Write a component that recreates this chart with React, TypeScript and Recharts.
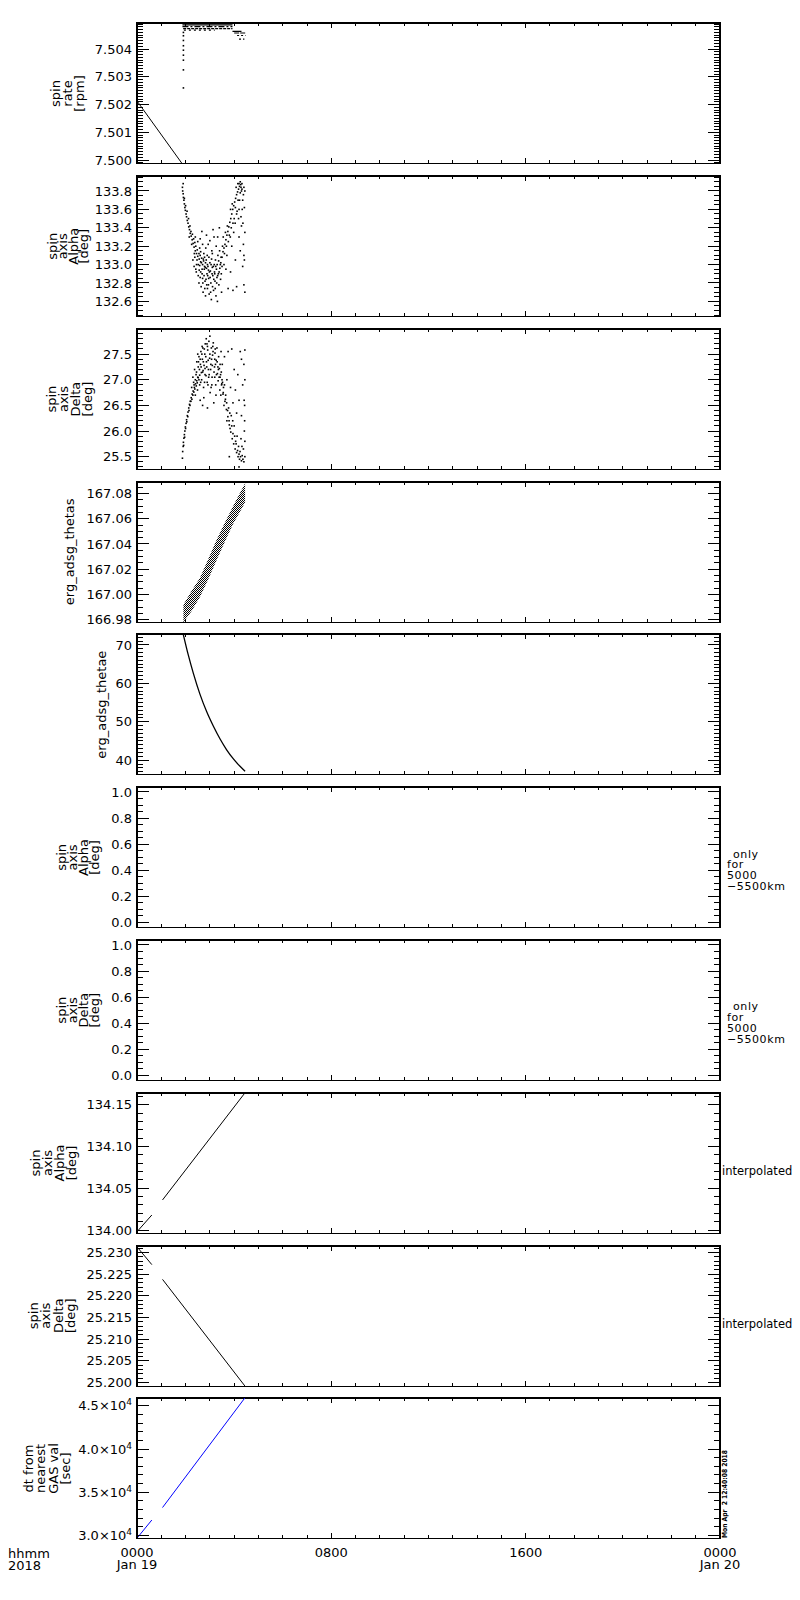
import React from "react";
import { ComposedChart, Line, Scatter, Area, XAxis, YAxis, ReferenceArea } from "recharts";

// page geometry of the ten stacked panels
const PLOT_LEFT = 137;
const PLOT_RIGHT = 720;
const FIRST_TOP = 23.3;
const PITCH = 152.78;
const PLOT_H = 140.4;
const PAD = 10;
const FONT = "'DejaVu Sans', 'Liberation Sans', sans-serif";

// hours after 0000 UT, Jan 19 2018
const HOUR_TICKS = Array.from({ length: 25 }, (_, i) => i);
const TIME_LABEL_HOURS = [0, 8, 16, 24];
const TIME_LABELS = ["0000", "0800", "1600", "0000"];
const DATE_LABELS = ["Jan 19", "", "", "Jan 20"];

// panel 1: spin rate [rpm]
const spinRateLine: [number, number][] = [[0, 7.50213], [1.85, 7.49988]];
const spinRateJump: [number, number][] = [
  [1.91, 7.5026], [1.91, 7.50325], [1.91, 7.5036], [1.91, 7.50396], [1.91, 7.50431],
  [1.91, 7.50448], [1.91, 7.5046], [1.91, 7.50412], [1.91, 7.50378],
];
const spinRateRows: [number, number, number][] = [
  [1.87, 3.93, 7.50487], [1.87, 3.93, 7.50481], [1.9, 3.93, 7.50474], [1.93, 3.2, 7.50468],
  [3.93, 4.3, 7.50464], [4.0, 4.47, 7.50458], [4.12, 4.47, 7.50449], [4.2, 4.42, 7.50436],
];
const ROW_DASH = ["", "6 2 2 2", "3 1", "2 3", "", "5 1", "2 2", "2 2"];

// panel 2: spin axis Alpha [deg]
const alphaPts: [number, number][] = [
  [1.9, 133.88], [1.87, 133.84], [1.88, 133.8], [1.9, 133.77], [1.91, 133.73], [1.93, 133.7], [1.95, 133.66],
  [1.97, 133.62], [1.99, 133.59], [2.02, 133.55], [2.04, 133.52], [2.07, 133.48], [2.1, 133.45],
  [2.13, 133.41], [2.16, 133.38], [2.19, 133.34], [2.23, 133.31], [2.27, 133.27], [2.31, 133.23],
  [2.35, 133.19], [2.4, 133.15], [2.45, 133.12], [2.5, 133.09], [2.56, 133.06], [2.62, 133.03],
  [2.7, 133.0], [2.78, 132.98], [2.86, 132.96], [2.94, 132.94],
  [1.95, 133.72], [2.0, 133.64], [2.06, 133.58], [2.12, 133.5], [2.18, 133.42], [2.22, 133.36],
  [2.28, 133.33], [2.33, 133.28], [2.38, 133.24], [2.42, 133.2], [2.48, 133.16], [2.55, 133.12],
  [2.6, 133.1], [2.66, 133.07], [2.74, 133.04], [2.82, 133.02], [2.9, 133.0], [2.15, 133.3],
  [2.25, 133.22], [2.36, 133.12], [2.47, 133.05], [2.58, 132.99], [2.68, 132.95],
  [2.3, 133.05], [2.35, 132.98], [2.4, 133.3], [2.44, 132.92], [2.5, 133.25], [2.52, 132.88],
  [2.55, 132.8], [2.58, 133.18], [2.62, 132.92], [2.64, 132.76], [2.67, 133.36], [2.7, 132.85],
  [2.72, 132.7], [2.75, 133.12], [2.77, 132.95], [2.8, 132.82], [2.82, 132.66], [2.85, 133.05],
  [2.88, 132.9], [2.9, 132.74], [2.93, 133.22], [2.95, 132.85], [2.97, 132.68], [3.0, 133.02],
  [3.02, 132.93], [3.04, 132.8], [3.06, 132.62], [3.08, 133.15], [3.1, 132.97], [3.12, 132.88],
  [3.15, 132.72], [3.17, 133.3], [3.19, 132.92], [3.21, 132.82], [3.23, 133.05], [3.25, 132.66],
  [3.27, 132.95], [3.29, 132.86], [3.31, 132.6], [3.33, 133.1], [3.35, 132.9], [3.37, 132.78],
  [3.39, 133.4], [3.41, 132.96], [3.44, 132.84], [3.46, 133.08], [3.48, 132.7], [3.5, 132.98],
  [2.6, 133.28], [2.86, 133.32], [3.0, 133.26], [3.13, 133.38], [2.96, 133.08], [3.05, 133.0],
  [3.18, 133.0], [2.78, 133.08], [2.92, 132.98],
  [2.52, 133.0], [2.56, 132.94], [2.6, 132.86], [2.65, 133.02], [2.68, 132.9], [2.71, 132.8],
  [2.73, 133.06], [2.76, 132.88], [2.79, 132.74], [2.81, 132.97], [2.84, 132.84], [2.87, 132.78],
  [2.89, 133.1], [2.91, 132.88], [2.94, 132.78], [2.98, 132.92], [3.01, 132.86], [3.03, 132.7],
  [3.07, 133.06], [3.09, 132.9], [3.11, 132.76], [3.14, 132.98], [3.16, 132.84], [3.2, 132.9],
  [3.22, 132.74], [3.24, 132.98], [3.28, 132.8], [3.3, 133.0], [3.32, 132.88], [3.36, 133.04],
  [3.38, 132.92], [3.4, 133.15], [3.43, 133.0], [3.47, 132.9], [2.45, 133.0], [2.42, 132.95],
  [2.38, 133.08], [2.62, 133.14], [2.7, 133.22], [2.83, 133.18], [3.1, 133.12], [3.26, 133.2],
  [3.32, 133.3],
  [3.45, 133.02], [3.5, 133.08], [3.54, 133.14], [3.58, 133.18], [3.62, 133.22], [3.66, 133.27],
  [3.7, 133.32], [3.74, 133.36], [3.78, 133.41], [3.82, 133.46], [3.86, 133.5], [3.9, 133.55],
  [3.94, 133.6], [3.98, 133.64], [4.02, 133.68], [4.06, 133.72], [4.1, 133.76], [4.14, 133.79],
  [4.18, 133.82], [4.22, 133.85], [4.27, 133.87], [4.32, 133.88],
  [3.52, 133.2], [3.6, 133.12], [3.68, 133.2], [3.72, 133.42], [3.8, 133.32], [3.88, 133.4],
  [3.92, 133.66], [4.0, 133.5], [4.05, 133.62], [4.08, 133.84], [4.12, 133.58], [4.16, 133.7],
  [4.2, 133.6], [4.25, 133.78], [4.3, 133.8], [4.35, 133.7], [4.4, 133.84], [4.42, 133.62],
  [3.85, 133.6], [3.95, 133.45], [4.15, 133.88], [4.25, 133.9],
  [3.55, 133.3], [3.64, 133.35], [3.7, 133.1], [3.58, 133.0], [3.66, 132.95], [3.76, 133.25],
  [3.84, 133.3], [3.9, 133.2], [3.98, 133.35], [4.04, 133.45], [4.1, 133.55], [4.18, 133.5],
  [4.22, 133.7], [4.33, 133.6], [4.38, 133.76], [4.44, 133.8], [4.36, 133.45], [4.4, 133.1],
  [4.32, 133.82], [4.2, 133.88], [4.28, 133.84],
  [4.2, 133.3], [4.25, 133.15], [4.3, 133.42], [4.35, 132.98], [4.38, 133.22], [4.4, 132.78],
  [4.42, 133.05], [4.44, 132.7], [4.1, 132.76], [3.95, 132.72], [4.05, 133.05], [3.85, 132.92],
  [3.75, 132.74], [4.28, 133.52], [4.44, 133.35],
];

// panel 3: spin axis Delta [deg]
const deltaPts: [number, number][] = [
  [1.87, 25.47], [1.88, 25.6], [1.9, 25.7], [1.91, 25.78], [1.93, 25.86], [1.95, 25.93], [1.97, 26.0],
  [1.99, 26.08], [2.02, 26.15], [2.04, 26.22], [2.07, 26.3], [2.1, 26.37], [2.13, 26.45],
  [2.16, 26.52], [2.19, 26.58], [2.23, 26.65], [2.27, 26.72], [2.31, 26.78], [2.36, 26.85],
  [2.41, 26.92], [2.46, 26.98], [2.52, 27.04], [2.58, 27.09], [2.65, 27.14], [2.72, 27.18], [2.8, 27.22],
  [1.92, 25.72], [1.96, 25.88], [2.0, 26.05], [2.05, 26.18], [2.09, 26.28], [2.14, 26.4],
  [2.18, 26.5], [2.22, 26.58], [2.26, 26.62], [2.3, 26.7], [2.34, 26.76], [2.38, 26.82],
  [2.44, 26.88], [2.48, 26.94], [2.55, 27.0],
  [2.25, 26.85], [2.3, 27.05], [2.33, 26.95], [2.37, 27.2], [2.4, 26.7], [2.43, 27.1], [2.46, 27.35],
  [2.49, 26.8], [2.52, 27.25], [2.55, 27.45], [2.58, 26.9], [2.61, 27.3], [2.63, 27.55], [2.66, 27.0],
  [2.69, 27.4], [2.71, 27.62], [2.74, 26.85], [2.76, 27.28], [2.79, 27.5], [2.81, 27.7], [2.84, 27.08],
  [2.86, 27.35], [2.89, 26.95], [2.91, 27.58], [2.94, 27.2], [2.96, 27.75], [2.99, 27.42], [3.01, 26.75],
  [3.04, 27.3], [3.06, 27.62], [3.09, 27.05], [3.11, 27.48], [3.14, 27.72], [3.16, 26.55], [3.19, 27.25],
  [3.21, 27.52], [3.24, 26.9], [3.26, 27.38], [3.29, 27.62], [3.31, 27.12], [3.34, 26.98], [3.36, 27.45],
  [3.39, 27.22], [3.41, 26.8], [3.44, 27.1], [3.46, 27.55], [3.49, 26.92], [3.51, 27.3], [3.54, 26.72],
  [2.6, 26.6], [2.75, 26.65], [2.9, 26.45], [3.05, 26.85], [2.7, 26.5], [2.95, 27.05], [3.2, 27.05],
  [2.5, 27.5], [2.85, 27.8], [3.0, 27.85],
  [2.35, 26.9], [2.4, 27.0], [2.45, 27.15], [2.5, 27.05], [2.53, 27.35], [2.57, 27.2], [2.6, 27.4],
  [2.64, 27.25], [2.67, 27.5], [2.7, 27.15], [2.73, 27.35], [2.77, 27.6], [2.8, 27.1], [2.83, 27.45],
  [2.87, 27.25], [2.9, 27.65], [2.93, 27.38], [2.97, 27.1], [3.0, 27.5], [3.03, 27.2], [3.07, 27.4],
  [3.1, 27.28], [3.13, 27.55], [3.17, 27.15], [3.2, 27.4], [3.23, 27.3], [3.27, 27.1], [3.3, 27.35],
  [3.33, 27.25], [3.38, 27.05], [3.42, 27.3], [3.47, 27.15], [3.5, 27.0], [2.62, 26.95], [2.78, 26.95],
  [2.92, 26.9], [3.08, 26.9], [3.25, 26.7], [2.68, 27.65], [2.88, 27.7], [3.12, 27.65], [3.22, 27.6],
  [3.35, 27.2], [3.42, 27.05], [3.48, 26.9], [3.55, 26.75], [3.62, 26.58], [3.68, 26.42], [3.74, 26.28],
  [3.8, 26.12], [3.86, 25.98], [3.92, 25.85], [3.98, 25.75], [4.04, 25.65], [4.1, 25.58], [4.16, 25.5],
  [4.22, 25.45], [4.3, 25.42],
  [3.45, 26.7], [3.52, 26.95], [3.58, 26.5], [3.65, 26.7], [3.7, 26.2], [3.77, 26.45], [3.83, 26.05],
  [3.88, 26.3], [3.95, 25.95], [4.0, 26.1], [4.06, 25.8], [4.12, 25.9], [4.18, 25.7], [4.24, 25.6],
  [4.28, 25.85], [4.33, 25.52], [4.38, 25.65], [4.4, 25.4], [4.42, 26.0],
  [3.56, 26.85], [3.6, 26.9], [3.64, 26.62], [3.69, 26.55], [3.73, 26.4], [3.79, 26.2], [3.82, 26.35],
  [3.9, 26.1], [3.94, 26.2], [4.02, 25.9], [4.08, 25.75], [4.14, 25.62], [4.2, 25.55], [4.26, 25.5],
  [4.32, 25.7], [4.36, 25.45], [4.44, 25.5], [4.44, 25.8], [4.43, 26.2], [4.41, 26.6], [4.44, 27.0],
  [4.3, 27.4],
  [3.6, 27.45], [3.75, 27.55], [3.9, 27.6], [4.0, 27.2], [4.05, 26.8], [4.15, 27.1], [4.2, 26.6],
  [4.25, 27.55], [4.3, 26.3], [4.35, 26.9], [4.4, 27.3], [4.43, 26.5], [4.44, 27.58], [3.85, 26.85],
  [3.95, 26.55], [4.1, 26.35], [3.7, 27.0], [4.2, 25.3], [3.8, 25.5],
];

// panel 4: erg_adsg_thetas, band of points [low, high]
const thetasTime = [1.91, 2.25, 2.59, 2.93, 3.27, 3.62, 3.96, 4.2, 4.45];
const thetasLow = [166.978, 166.987, 166.998, 167.012, 167.027, 167.042, 167.056, 167.064, 167.073];
const thetasHigh = [166.992, 167.003, 167.013, 167.028, 167.043, 167.057, 167.07, 167.079, 167.088];

// panel 5: erg_adsg_thetae
const thetaeTime = [1.91, 2.11, 2.32, 2.59, 2.87, 3.14, 3.42, 3.69, 3.96, 4.24, 4.45];
const thetaeVal = [72.6, 67.4, 62.6, 57.2, 52.6, 48.9, 45.5, 42.7, 40.4, 38.4, 37.1];

// panels 8-10: interpolated values, two segments each
const alphaInterp: [number, number][][] = [[[0, 133.998], [0.61, 134.018]], [[1.05, 134.036], [4.44, 134.164]]];
const deltaInterp: [number, number][][] = [[[0, 25.2313], [0.61, 25.2272]], [[1.05, 25.2238], [4.44, 25.1992]]];
const dtInterp: [number, number][][] = [[[0, 29700], [0.61, 31800]], [[1.05, 33240], [4.44, 45900]]];

const toPts = (a: [number, number][]) => a.map(([t, v]) => ({ t, v }));

type Spec = {
  domain: [number, number];
  major: number;
  div: number;
  fmt: (v: number) => React.ReactNode;
  title: string[];
  cx: number;
  gap: number;
};

const sci = (v: number) => (
  <>
    <tspan>{(v / 1e4).toFixed(1)}×10</tspan>
    <tspan dy={-5} fontSize={9}>4</tspan>
  </>
);

const SPECS: Spec[] = [
  { domain: [7.49988, 7.50494], major: 0.001, div: 10, fmt: (v) => v.toFixed(3), title: ["spin", "rate", "[rpm]"], cx: 67, gap: 12 },
  { domain: [132.437, 133.963], major: 0.2, div: 4, fmt: (v) => v.toFixed(1), title: ["spin", "axis", "Alpha", "[deg]"], cx: 68, gap: 10.5 },
  { domain: [25.252, 27.99], major: 0.5, div: 5, fmt: (v) => v.toFixed(1), title: ["spin", "axis", "Delta", "[deg]"], cx: 70, gap: 12 },
  { domain: [166.978, 167.089], major: 0.02, div: 4, fmt: (v) => v.toFixed(2), title: ["erg_adsg_thetas"], cx: 70, gap: 12 },
  { domain: [36.3, 72.85], major: 10, div: 10, fmt: (v) => v.toFixed(0), title: ["erg_adsg_thetae"], cx: 102, gap: 12 },
  { domain: [-0.038, 1.038], major: 0.2, div: 4, fmt: (v) => v.toFixed(1), title: ["spin", "axis", "Alpha", "[deg]"], cx: 78, gap: 11 },
  { domain: [-0.038, 1.038], major: 0.2, div: 4, fmt: (v) => v.toFixed(1), title: ["spin", "axis", "Delta", "[deg]"], cx: 78, gap: 11 },
  { domain: [133.996, 134.164], major: 0.05, div: 5, fmt: (v) => v.toFixed(2), title: ["spin", "axis", "Alpha", "[deg]"], cx: 54, gap: 12 },
  { domain: [25.1991, 25.2315], major: 0.005, div: 5, fmt: (v) => v.toFixed(3), title: ["spin", "axis", "Delta", "[deg]"], cx: 52, gap: 12.5 },
  { domain: [29676, 45891], major: 5000, div: 5, fmt: sci, title: ["dt from", "nearest", "GAS val", "[sec]"], cx: 47, gap: 12.5 },
];

function axisTicks(domain: [number, number], major: number, div: number) {
  const step = major / div;
  const k0 = Math.ceil(domain[0] / step - 1e-9);
  const k1 = Math.floor(domain[1] / step + 1e-9);
  const out: number[] = [];
  for (let k = k0; k <= k1; k++) out.push(+(k * step).toFixed(9));
  return out;
}

const isMajor = (v: number, major: number) => Math.abs(v / major - Math.round(v / major)) < 1e-6;

function makeYTick(spec: Spec) {
  return (props: any) => {
    const { y, payload } = props;
    const v = payload.value;
    const maj = isMajor(v, spec.major);
    const len = maj ? 12 : 6;
    return (
      <g>
        <line x1={PLOT_LEFT} x2={PLOT_LEFT + len} y1={y} y2={y} stroke="#000" strokeWidth={1} shapeRendering="crispEdges" />
        <line x1={PLOT_RIGHT - len} x2={PLOT_RIGHT} y1={y} y2={y} stroke="#000" strokeWidth={1} shapeRendering="crispEdges" />
        {maj && (
          <text x={PLOT_LEFT - 5} y={y + 4.6} textAnchor="end" fontSize={13} fontFamily={FONT} fill="#000">
            {spec.fmt(v)}
          </text>
        )}
      </g>
    );
  };
}

function makeXTick(showLabels: boolean) {
  const top = PAD;
  const bottom = PAD + PLOT_H;
  return (props: any) => {
    const { x, payload } = props;
    const v = payload.value;
    const li = TIME_LABEL_HOURS.indexOf(v);
    const len = li >= 0 ? 5 : 3.5;
    return (
      <g>
        <line x1={x} x2={x} y1={bottom} y2={bottom - len} stroke="#000" strokeWidth={1} shapeRendering="crispEdges" />
        <line x1={x} x2={x} y1={top} y2={top + len} stroke="#000" strokeWidth={1} shapeRendering="crispEdges" />
        {showLabels && li >= 0 && (
          <text x={x} y={bottom + 19} textAnchor="middle" fontSize={13} fontFamily={FONT} fill="#000">
            <tspan x={x}>{TIME_LABELS[li]}</tspan>
            {DATE_LABELS[li] && (
              <tspan x={x} dy={12}>
                {DATE_LABELS[li]}
              </tspan>
            )}
          </text>
        )}
      </g>
    );
  };
}

const dotShape = (p: any) => <rect x={p.cx - 0.8} y={p.cy - 0.8} width={1.6} height={1.6} fill="#000" />;

function seg(key: string, pts: [number, number][], color = "#000", width = 1, dash = "", curve: any = "linear") {
  return (
    <Line
      key={key}
      data={toPts(pts)}
      dataKey="v"
      type={curve}
      stroke={color}
      strokeWidth={width}
      strokeDasharray={dash || undefined}
      dot={false}
      activeDot={false}
      isAnimationActive={false}
    />
  );
}

function seriesFor(i: number): React.ReactNode[] {
  switch (i) {
    case 0:
      return [
        seg("l", spinRateLine),
        ...spinRateRows.map(([a, b, v], k) => seg("r" + k, [[a, v], [b, v]], "#000", 1.2, ROW_DASH[k])),
        <Scatter key="j" data={toPts(spinRateJump)} dataKey="v" shape={dotShape} isAnimationActive={false} />,
      ];
    case 1:
      return [<Scatter key="a" data={toPts(alphaPts)} dataKey="v" shape={dotShape} isAnimationActive={false} />];
    case 2:
      return [<Scatter key="d" data={toPts(deltaPts)} dataKey="v" shape={dotShape} isAnimationActive={false} />];
    case 3:
      return [
        <Area
          key="b"
          data={thetasTime.map((t, k) => ({ t, band: [thetasLow[k], thetasHigh[k]] }))}
          dataKey="band"
          type="linear"
          stroke="none"
          fill="url(#hatch)"
          fillOpacity={1}
          dot={false}
          activeDot={false}
          isAnimationActive={false}
        />,
      ];
    case 4:
      return [seg("e", thetaeTime.map((t, k) => [t, thetaeVal[k]] as [number, number]), "#000", 1.3, "", "monotone")];
    case 7:
      return alphaInterp.map((s, k) => seg("a" + k, s));
    case 8:
      return deltaInterp.map((s, k) => seg("d" + k, s));
    case 9:
      return dtInterp.map((s, k) => seg("t" + k, s, "#0000ff"));
    default:
      return [];
  }
}

function Panel({ i }: { i: number }) {
  const spec = SPECS[i];
  const last = i === SPECS.length - 1;
  const bottomPad = last ? 45 : PAD;
  const top = FIRST_TOP + i * PITCH - PAD;
  return (
    <div style={{ position: "absolute", left: 0, top, width: 800 }}>
      <ComposedChart
        width={800}
        height={PAD + PLOT_H + bottomPad}
        margin={{ top: PAD, left: PLOT_LEFT - 1, right: 800 - PLOT_RIGHT, bottom: bottomPad - 1 }}
      >
        <defs>
          <pattern id="hatch" width="2" height="2" patternUnits="userSpaceOnUse">
            <rect x="0" y="0" width="1" height="1" fill="#000" />
            <rect x="1" y="1" width="1" height="1" fill="#000" />
          </pattern>
        </defs>
        <XAxis
          type="number"
          dataKey="t"
          domain={[0, 24]}
          ticks={HOUR_TICKS}
          interval={0}
          allowDataOverflow
          height={1}
          axisLine={false}
          tickLine={false}
          tick={makeXTick(last)}
        />
        <YAxis
          type="number"
          domain={spec.domain}
          ticks={axisTicks(spec.domain, spec.major, spec.div)}
          interval={0}
          allowDataOverflow
          width={1}
          axisLine={false}
          tickLine={false}
          tick={makeYTick(spec)}
        />
        {seriesFor(i)}
        <ReferenceArea
          x1={0}
          x2={24}
          y1={spec.domain[0]}
          y2={spec.domain[1]}
          fill="none"
          fillOpacity={0}
          stroke="#000"
          strokeWidth={1.3}
          shapeRendering="crispEdges"
        />
      </ComposedChart>
    </div>
  );
}

function YTitle({ lines, cx, cy, gap }: { lines: string[]; cx: number; cy: number; gap: number }) {
  return (
    <>
      {lines.map((s, k) => {
        const x = cx + (k - (lines.length - 1) / 2) * gap;
        return (
          <text
            key={k}
            x={x}
            y={cy}
            transform={`rotate(-90 ${x} ${cy})`}
            textAnchor="middle"
            dominantBaseline="central"
            fontSize={13}
            fontFamily={FONT}
            fill="#000"
          >
            {s}
          </text>
        );
      })}
    </>
  );
}

const NOTE_LINES = ["only", "for", "5000", "−5500km"];

export default function App() {
  return (
    <div style={{ position: "absolute", left: 0, top: 0, width: 800, height: 1600, background: "#fff" }}>
      {SPECS.map((_, i) => (
        <Panel key={i} i={i} />
      ))}
      <svg width={800} height={1600} style={{ position: "absolute", left: 0, top: 0, pointerEvents: "none" }}>
        {SPECS.map((s, i) => (
          <YTitle key={i} lines={s.title} cx={s.cx} cy={FIRST_TOP + i * PITCH + PLOT_H / 2} gap={s.gap} />
        ))}
        {[5, 6].map((i) => {
          const base = FIRST_TOP + i * PITCH + 70.5;
          return (
            <text key={i} fontSize={11} fontFamily={FONT} fill="#000" letterSpacing={0.6}>
              {NOTE_LINES.map((s, k) => (
                <tspan key={k} x={k === 0 ? 733 : 727} y={base + k * 10.7}>
                  {s}
                </tspan>
              ))}
            </text>
          );
        })}
        {[7, 8].map((i) => (
          <text key={i} x={722} y={FIRST_TOP + i * PITCH + 82} fontSize={11.5} fontFamily={FONT} fill="#000">
            interpolated
          </text>
        ))}
        <text
          x={727}
          y={1538}
          transform="rotate(-90 727 1538)"
          fontSize={7}
          fontWeight="bold"
          fontFamily={FONT}
          textLength={88}
          lengthAdjust="spacingAndGlyphs"
          fill="#000"
          style={{ whiteSpace: "pre" }}
        >
          Mon Apr  2 12:40:08 2018
        </text>
        <text x={8} y={1558} fontSize={13} fontFamily={FONT} fill="#000">
          hhmm
        </text>
        <text x={8} y={1570} fontSize={13} fontFamily={FONT} fill="#000">
          2018
        </text>
      </svg>
    </div>
  );
}
